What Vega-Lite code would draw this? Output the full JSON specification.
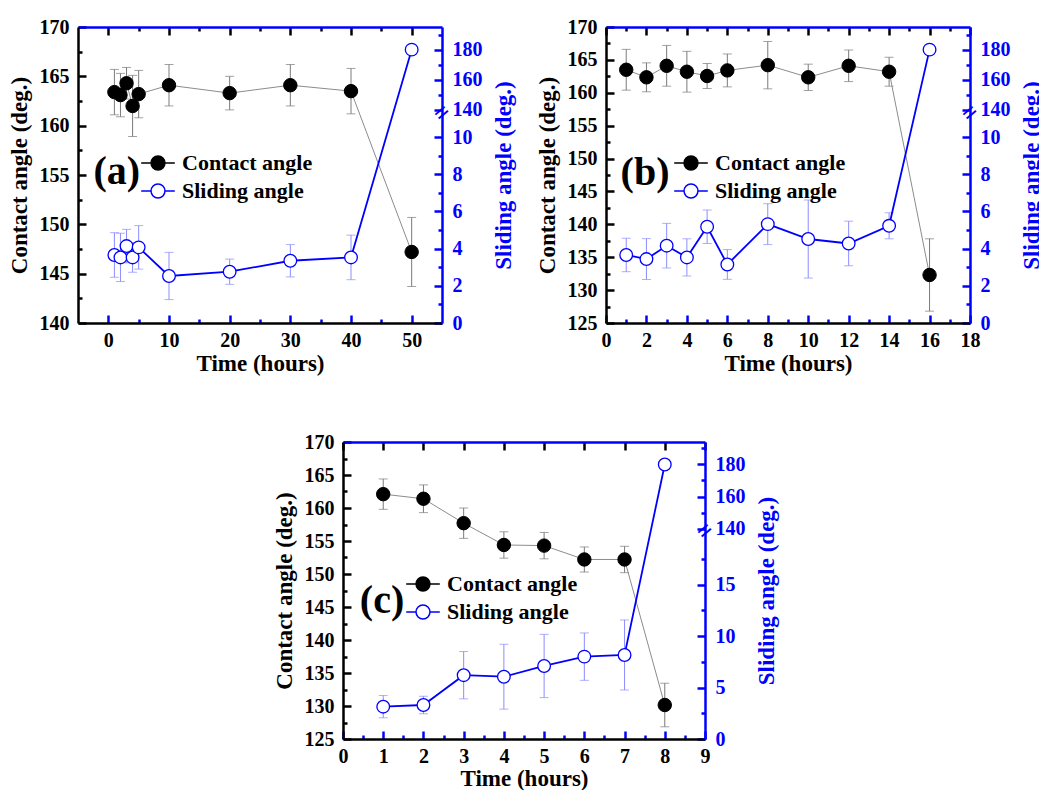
{
  "$schema": "https://vega.github.io/schema/vega-lite/v6.json",
  "padding": {"left": 8, "top": 17, "right": 0, "bottom": 0},
  "datasets": {
    "a": [
      {"t": 1, "series": "Contact angle", "v": 163.4, "e": 2.3},
      {"t": 2, "series": "Contact angle", "v": 163.1, "e": 2.2},
      {"t": 3, "series": "Contact angle", "v": 164.3, "e": 1.6},
      {"t": 4, "series": "Contact angle", "v": 162.0, "e": 3.1},
      {"t": 5, "series": "Contact angle", "v": 163.2, "e": 2.4},
      {"t": 10, "series": "Contact angle", "v": 164.1, "e": 2.1},
      {"t": 20, "series": "Contact angle", "v": 163.3, "e": 1.7},
      {"t": 30, "series": "Contact angle", "v": 164.1, "e": 2.1},
      {"t": 40, "series": "Contact angle", "v": 163.5, "e": 2.3},
      {"t": 50, "series": "Contact angle", "v": 147.2, "e": 3.5},
      {"t": 1, "series": "Sliding angle", "v": 3.66, "e": 1.2},
      {"t": 2, "series": "Sliding angle", "v": 3.53, "e": 1.3},
      {"t": 3, "series": "Sliding angle", "v": 4.14, "e": 0.9},
      {"t": 4, "series": "Sliding angle", "v": 3.53, "e": 0.8},
      {"t": 5, "series": "Sliding angle", "v": 4.07, "e": 1.17},
      {"t": 10, "series": "Sliding angle", "v": 2.53, "e": 1.27},
      {"t": 20, "series": "Sliding angle", "v": 2.76, "e": 0.68},
      {"t": 30, "series": "Sliding angle", "v": 3.35, "e": 0.87},
      {"t": 40, "series": "Sliding angle", "v": 3.53, "e": 1.2},
      {"t": 50, "series": "Sliding angle", "v": 180, "e": null}
    ],
    "b": [
      {"t": 1, "series": "Contact angle", "v": 163.5, "e": 3.1},
      {"t": 2, "series": "Contact angle", "v": 162.35, "e": 2.2},
      {"t": 3, "series": "Contact angle", "v": 164.1, "e": 3.1},
      {"t": 4, "series": "Contact angle", "v": 163.2, "e": 3.1},
      {"t": 5, "series": "Contact angle", "v": 162.55, "e": 1.9},
      {"t": 6, "series": "Contact angle", "v": 163.4, "e": 2.5},
      {"t": 8, "series": "Contact angle", "v": 164.2, "e": 3.6},
      {"t": 10, "series": "Contact angle", "v": 162.35, "e": 2.0},
      {"t": 12, "series": "Contact angle", "v": 164.1, "e": 2.4},
      {"t": 14, "series": "Contact angle", "v": 163.2, "e": 2.2},
      {"t": 16, "series": "Contact angle", "v": 132.3, "e": 5.5},
      {"t": 1, "series": "Sliding angle", "v": 3.66, "e": 0.9},
      {"t": 2, "series": "Sliding angle", "v": 3.44, "e": 1.1},
      {"t": 3, "series": "Sliding angle", "v": 4.16, "e": 1.2},
      {"t": 4, "series": "Sliding angle", "v": 3.53, "e": 1.0},
      {"t": 5, "series": "Sliding angle", "v": 5.18, "e": 0.9},
      {"t": 6, "series": "Sliding angle", "v": 3.15, "e": 0.8},
      {"t": 8, "series": "Sliding angle", "v": 5.32, "e": 1.1},
      {"t": 10, "series": "Sliding angle", "v": 4.52, "e": 2.1},
      {"t": 12, "series": "Sliding angle", "v": 4.28, "e": 1.2},
      {"t": 14, "series": "Sliding angle", "v": 5.23, "e": 0.7},
      {"t": 16, "series": "Sliding angle", "v": 180, "e": null}
    ],
    "c": [
      {"t": 1, "series": "Contact angle", "v": 162.1, "e": 2.3},
      {"t": 2, "series": "Contact angle", "v": 161.4, "e": 2.1},
      {"t": 3, "series": "Contact angle", "v": 157.7, "e": 2.3},
      {"t": 4, "series": "Contact angle", "v": 154.4, "e": 2.0},
      {"t": 5, "series": "Contact angle", "v": 154.3, "e": 2.0},
      {"t": 6, "series": "Contact angle", "v": 152.2, "e": 1.9},
      {"t": 7, "series": "Contact angle", "v": 152.2, "e": 2.0},
      {"t": 8, "series": "Contact angle", "v": 130.15, "e": 3.3},
      {"t": 1, "series": "Sliding angle", "v": 3.14, "e": 1.08},
      {"t": 2, "series": "Sliding angle", "v": 3.3, "e": 0.85},
      {"t": 3, "series": "Sliding angle", "v": 6.2, "e": 2.3},
      {"t": 4, "series": "Sliding angle", "v": 6.05, "e": 3.15},
      {"t": 5, "series": "Sliding angle", "v": 7.09, "e": 3.07},
      {"t": 6, "series": "Sliding angle", "v": 8.0, "e": 2.3},
      {"t": 7, "series": "Sliding angle", "v": 8.16, "e": 3.4},
      {"t": 8, "series": "Sliding angle", "v": 180, "e": null}
    ]
  },
  "config": {
    "view": {"stroke": null},
    "font": "Liberation Serif",
    "axis": {
      "labelFont": "Liberation Serif", "labelFontSize": 20, "labelFontWeight": "bold", "labelColor": "#000000",
      "titleFont": "Liberation Serif", "titleFontSize": 23, "titleFontWeight": "bold", "titleColor": "#000000",
      "domainWidth": 2.5, "domainColor": "#000000", "ticks": false,
      "grid": true, "gridWidth": 2.5, "gridOpacity": 1,
      "labelPadding": 9, "labelFlush": false, "labelOverlap": false, "format": "d"
    },
    "legend": {
      "title": null,
      "symbolType": "M-1.4,0H-0.58M0.58,0H1.4M-0.58,0A0.58,0.58,0,1,1,0.58,0A0.58,0.58,0,1,1,-0.58,0Z",
      "symbolSize": 576, "symbolStrokeWidth": 1.5,
      "labelFont": "Liberation Serif", "labelFontSize": 22, "labelFontWeight": "bold", "labelColor": "#000000",
      "labelOffset": 11, "rowPadding": 4, "padding": 0, "direction": "vertical"
    }
  },
  "resolve": {"scale": {"fill": "independent", "stroke": "independent"}},
  "spacing": 57,
  "vconcat": [
    {
      "spacing": 21,
      "resolve": {"scale": {"fill": "independent", "stroke": "independent"}},
      "hconcat": [
        {
          "width": 364, "height": 296,
          "data": {"name": "a"},
          "resolve": {"scale": {"y": "independent"}, "axis": {"x": "independent", "y": "independent"}},
          "layer": [
            {
              "transform": [{"filter": "datum.series === 'Contact angle'"}],
              "encoding": {
                "x": {"field": "t", "type": "quantitative", "scale": {"domain": [-5, 55], "nice": false, "zero": false},
                      "axis": {"orient": "bottom", "zindex": 1, "format": "d", "values": [0, 5, 10, 15, 20, 25, 30, 35, 40, 45, 50], "labelExpr": "datum.value % 10 === 0 ? datum.label : ''", "labelPadding": 7, "title": "Time (hours)", "titlePadding": 2,
                               "grid": true, "gridColor": "#000000", "gridDash": {"condition": {"test": "datum.value % 10 === 0", "value": [8, 1000]}, "value": [4, 1000]}}},
                "y": {"field": "v", "type": "quantitative", "scale": {"domain": [140, 170], "nice": false, "zero": false},
                      "axis": {"orient": "left", "zindex": 1, "format": "d", "values": [140, 142.5, 145, 147.5, 150, 152.5, 155, 157.5, 160, 162.5, 165, 167.5, 170], "labelExpr": "datum.value % 5 === 0 ? datum.label : ''", "title": "Contact angle (deg.)", "titlePadding": 8,
                               "grid": true, "gridColor": "#000000", "gridDash": {"condition": {"test": "datum.value % 5 === 0", "value": [8, 1000]}, "value": [4, 1000]}}}
              },
              "layer": [
                {"transform": [{"filter": "datum.e != null"}], "mark": {"type": "errorbar", "color": "#7a7a7a", "thickness": 1, "ticks": {"size": 9}}, "encoding": {"yError": {"field": "e"}}},
                {"mark": {"type": "line", "color": "#8c8c8c", "strokeWidth": 1}},
                {"mark": {"type": "point", "filled": true, "size": 180, "opacity": 1, "strokeWidth": 1},
                 "encoding": {
                   "fill": {"field": "series", "type": "nominal", "scale": {"domain": ["Contact angle", "Sliding angle"], "range": ["#000000", "#ffffff"]}, "legend": {"orient": "none", "legendX": 67, "legendY": 123}},
                   "stroke": {"field": "series", "type": "nominal", "scale": {"domain": ["Contact angle", "Sliding angle"], "range": ["#000000", "#0000ff"]}, "legend": {"orient": "none", "legendX": 67, "legendY": 123}}
                 }}
              ]
            },
            {
              "transform": [{"filter": "datum.series === 'Sliding angle'"}],
              "encoding": {
                "x": {"field": "t", "type": "quantitative", "scale": {"domain": [-5, 55], "nice": false, "zero": false},
                      "axis": {"orient": "top", "zindex": 1, "values": [0, 5, 10, 15, 20, 25, 30, 35, 40, 45, 50], "labels": false, "title": null, "domainColor": "#0000ff",
                               "grid": true, "gridColor": "#0000ff", "gridDash": {"condition": {"test": "datum.value % 10 === 0", "value": [8, 1000]}, "value": [4, 1000]}}},
                "y": {"field": "v", "type": "quantitative", "scale": {"type": "linear", "domain": [0, 11.3, 138, 195], "range": [296, 86, 86, 0], "nice": false, "zero": false},
                      "axis": {"orient": "right", "zindex": 1, "format": "d", "values": [0, 1, 2, 3, 4, 5, 6, 7, 8, 9, 10, 140, 150, 160, 170, 180, 190], "labelExpr": "(datum.value <= 12 && datum.value % 2 === 0) || (datum.value >= 130 && datum.value % 20 === 0) ? datum.label : ''", "labelPadding": 10, "labelColor": "#0000ff", "domainColor": "#0000ff", "title": "Sliding angle (deg.)", "titleColor": "#0000ff", "titlePadding": 10, "titleAngle": 270, "titleBaseline": "top",
                               "grid": true, "gridColor": "#0000ff", "gridDash": {"condition": {"test": "(datum.value <= 12 && datum.value % 2 === 0) || (datum.value >= 130 && datum.value % 20 === 0)", "value": [8, 1000]}, "value": [4, 1000]}}}
              },
              "layer": [
                {"transform": [{"filter": "datum.e != null"}], "mark": {"type": "errorbar", "color": "#8c8cff", "thickness": 1, "ticks": {"size": 9}}, "encoding": {"yError": {"field": "e"}}},
                {"mark": {"type": "line", "color": "#0000ff", "strokeWidth": 1.8}},
                {"mark": {"type": "point", "filled": true, "size": 160, "opacity": 1, "strokeWidth": 1.3},
                 "encoding": {
                   "fill": {"field": "series", "type": "nominal", "scale": {"domain": ["Contact angle", "Sliding angle"], "range": ["#000000", "#ffffff"]}, "legend": {"orient": "none", "legendX": 67, "legendY": 123}},
                   "stroke": {"field": "series", "type": "nominal", "scale": {"domain": ["Contact angle", "Sliding angle"], "range": ["#000000", "#0000ff"]}, "legend": {"orient": "none", "legendX": 67, "legendY": 123}}
                 }}
              ]
            },
            {
              "data": {"values": [{"label": "(a)"}]},
              "mark": {"type": "text", "fontSize": 40, "fontWeight": "bold", "color": "#000000", "baseline": "middle", "align": "center"},
              "encoding": {
                "x": {"datum": 1.4, "type": "quantitative", "scale": {"domain": [-5, 55], "nice": false, "zero": false}, "axis": null},
                "y": {"datum": 155.3, "type": "quantitative", "scale": {"domain": [140, 170], "nice": false, "zero": false}, "axis": null},
                "text": {"field": "label"}
              }
            },
            {
              "data": {"values": [{"mk": "="}]},
              "mark": {"type": "text", "fontSize": 26, "fontWeight": "bold", "color": "#0000ff", "angle": 320, "baseline": "middle", "align": "center"},
              "encoding": {
                "x": {"datum": 55, "type": "quantitative", "scale": {"domain": [-5, 55], "nice": false, "zero": false}, "axis": null},
                "y": {"datum": 50, "type": "quantitative", "scale": {"type": "linear", "domain": [0, 11.3, 138, 195], "range": [296, 86, 86, 0], "nice": false, "zero": false}, "axis": null},
                "text": {"field": "mk"}
              }
            }
          ]
        },
        {
          "width": 364, "height": 296,
          "data": {"name": "b"},
          "resolve": {"scale": {"y": "independent"}, "axis": {"x": "independent", "y": "independent"}},
          "layer": [
            {
              "transform": [{"filter": "datum.series === 'Contact angle'"}],
              "encoding": {
                "x": {"field": "t", "type": "quantitative", "scale": {"domain": [0, 18], "nice": false, "zero": false},
                      "axis": {"orient": "bottom", "zindex": 1, "format": "d", "values": [0, 1, 2, 3, 4, 5, 6, 7, 8, 9, 10, 11, 12, 13, 14, 15, 16, 17, 18], "labelExpr": "datum.value % 2 === 0 ? datum.label : ''", "labelPadding": 7, "title": "Time (hours)", "titlePadding": 2,
                               "grid": true, "gridColor": "#000000", "gridDash": {"condition": {"test": "datum.value % 2 === 0", "value": [8, 1000]}, "value": [4, 1000]}}},
                "y": {"field": "v", "type": "quantitative", "scale": {"domain": [125, 170], "nice": false, "zero": false},
                      "axis": {"orient": "left", "zindex": 1, "format": "d", "values": [125, 127.5, 130, 132.5, 135, 137.5, 140, 142.5, 145, 147.5, 150, 152.5, 155, 157.5, 160, 162.5, 165, 167.5, 170], "labelExpr": "datum.value % 5 === 0 ? datum.label : ''", "title": "Contact angle (deg.)", "titlePadding": 8,
                               "grid": true, "gridColor": "#000000", "gridDash": {"condition": {"test": "datum.value % 5 === 0", "value": [8, 1000]}, "value": [4, 1000]}}}
              },
              "layer": [
                {"transform": [{"filter": "datum.e != null"}], "mark": {"type": "errorbar", "color": "#7a7a7a", "thickness": 1, "ticks": {"size": 9}}, "encoding": {"yError": {"field": "e"}}},
                {"mark": {"type": "line", "color": "#8c8c8c", "strokeWidth": 1}},
                {"mark": {"type": "point", "filled": true, "size": 180, "opacity": 1, "strokeWidth": 1},
                 "encoding": {
                   "fill": {"field": "series", "type": "nominal", "scale": {"domain": ["Contact angle", "Sliding angle"], "range": ["#000000", "#ffffff"]}, "legend": {"orient": "none", "legendX": 72, "legendY": 123}},
                   "stroke": {"field": "series", "type": "nominal", "scale": {"domain": ["Contact angle", "Sliding angle"], "range": ["#000000", "#0000ff"]}, "legend": {"orient": "none", "legendX": 72, "legendY": 123}}
                 }}
              ]
            },
            {
              "transform": [{"filter": "datum.series === 'Sliding angle'"}],
              "encoding": {
                "x": {"field": "t", "type": "quantitative", "scale": {"domain": [0, 18], "nice": false, "zero": false},
                      "axis": {"orient": "top", "zindex": 1, "values": [0, 1, 2, 3, 4, 5, 6, 7, 8, 9, 10, 11, 12, 13, 14, 15, 16, 17, 18], "labels": false, "title": null, "domainColor": "#0000ff",
                               "grid": true, "gridColor": "#0000ff", "gridDash": {"condition": {"test": "datum.value % 2 === 0", "value": [8, 1000]}, "value": [4, 1000]}}},
                "y": {"field": "v", "type": "quantitative", "scale": {"type": "linear", "domain": [0, 11.3, 138, 195], "range": [296, 86, 86, 0], "nice": false, "zero": false},
                      "axis": {"orient": "right", "zindex": 1, "format": "d", "values": [0, 1, 2, 3, 4, 5, 6, 7, 8, 9, 10, 140, 150, 160, 170, 180, 190], "labelExpr": "(datum.value <= 12 && datum.value % 2 === 0) || (datum.value >= 130 && datum.value % 20 === 0) ? datum.label : ''", "labelPadding": 10, "labelColor": "#0000ff", "domainColor": "#0000ff", "title": "Sliding angle (deg.)", "titleColor": "#0000ff", "titlePadding": 10, "titleAngle": 270, "titleBaseline": "top",
                               "grid": true, "gridColor": "#0000ff", "gridDash": {"condition": {"test": "(datum.value <= 12 && datum.value % 2 === 0) || (datum.value >= 130 && datum.value % 20 === 0)", "value": [8, 1000]}, "value": [4, 1000]}}}
              },
              "layer": [
                {"transform": [{"filter": "datum.e != null"}], "mark": {"type": "errorbar", "color": "#8c8cff", "thickness": 1, "ticks": {"size": 9}}, "encoding": {"yError": {"field": "e"}}},
                {"mark": {"type": "line", "color": "#0000ff", "strokeWidth": 1.8}},
                {"mark": {"type": "point", "filled": true, "size": 160, "opacity": 1, "strokeWidth": 1.3},
                 "encoding": {
                   "fill": {"field": "series", "type": "nominal", "scale": {"domain": ["Contact angle", "Sliding angle"], "range": ["#000000", "#ffffff"]}, "legend": {"orient": "none", "legendX": 72, "legendY": 123}},
                   "stroke": {"field": "series", "type": "nominal", "scale": {"domain": ["Contact angle", "Sliding angle"], "range": ["#000000", "#0000ff"]}, "legend": {"orient": "none", "legendX": 72, "legendY": 123}}
                 }}
              ]
            },
            {
              "data": {"values": [{"label": "(b)"}]},
              "mark": {"type": "text", "fontSize": 40, "fontWeight": "bold", "color": "#000000", "baseline": "middle", "align": "center"},
              "encoding": {
                "x": {"datum": 1.93, "type": "quantitative", "scale": {"domain": [0, 18], "nice": false, "zero": false}, "axis": null},
                "y": {"datum": 147.8, "type": "quantitative", "scale": {"domain": [125, 170], "nice": false, "zero": false}, "axis": null},
                "text": {"field": "label"}
              }
            },
            {
              "data": {"values": [{"mk": "="}]},
              "mark": {"type": "text", "fontSize": 26, "fontWeight": "bold", "color": "#0000ff", "angle": 320, "baseline": "middle", "align": "center"},
              "encoding": {
                "x": {"datum": 18, "type": "quantitative", "scale": {"domain": [0, 18], "nice": false, "zero": false}, "axis": null},
                "y": {"datum": 50, "type": "quantitative", "scale": {"type": "linear", "domain": [0, 11.3, 138, 195], "range": [296, 86, 86, 0], "nice": false, "zero": false}, "axis": null},
                "text": {"field": "mk"}
              }
            }
          ]
        }
      ]
    },
    {
      "spacing": 0,
      "resolve": {"scale": {"fill": "independent", "stroke": "independent"}},
      "hconcat": [
        {"width": 195, "height": 10, "data": {"values": []}, "mark": "point"},
        {
          "width": 362, "height": 297,
          "data": {"name": "c"},
          "resolve": {"scale": {"y": "independent"}, "axis": {"x": "independent", "y": "independent"}},
          "layer": [
            {
              "transform": [{"filter": "datum.series === 'Contact angle'"}],
              "encoding": {
                "x": {"field": "t", "type": "quantitative", "scale": {"domain": [0, 9], "nice": false, "zero": false},
                      "axis": {"orient": "bottom", "zindex": 1, "format": "d", "values": [0, 0.5, 1, 1.5, 2, 2.5, 3, 3.5, 4, 4.5, 5, 5.5, 6, 6.5, 7, 7.5, 8, 8.5, 9], "labelExpr": "datum.value % 1 === 0 ? datum.label : ''", "labelPadding": 7, "title": "Time (hours)", "titlePadding": 1,
                               "grid": true, "gridColor": "#000000", "gridDash": {"condition": {"test": "datum.value % 1 === 0", "value": [8, 1000]}, "value": [4, 1000]}}},
                "y": {"field": "v", "type": "quantitative", "scale": {"domain": [125, 170], "nice": false, "zero": false},
                      "axis": {"orient": "left", "zindex": 1, "format": "d", "values": [125, 127.5, 130, 132.5, 135, 137.5, 140, 142.5, 145, 147.5, 150, 152.5, 155, 157.5, 160, 162.5, 165, 167.5, 170], "labelExpr": "datum.value % 5 === 0 ? datum.label : ''", "title": "Contact angle (deg.)", "titlePadding": 8,
                               "grid": true, "gridColor": "#000000", "gridDash": {"condition": {"test": "datum.value % 5 === 0", "value": [8, 1000]}, "value": [4, 1000]}}}
              },
              "layer": [
                {"transform": [{"filter": "datum.e != null"}], "mark": {"type": "errorbar", "color": "#7a7a7a", "thickness": 1, "ticks": {"size": 9}}, "encoding": {"yError": {"field": "e"}}},
                {"mark": {"type": "line", "color": "#8c8c8c", "strokeWidth": 1}},
                {"mark": {"type": "point", "filled": true, "size": 180, "opacity": 1, "strokeWidth": 1},
                 "encoding": {
                   "fill": {"field": "series", "type": "nominal", "scale": {"domain": ["Contact angle", "Sliding angle"], "range": ["#000000", "#ffffff"]}, "legend": {"orient": "none", "legendX": 67, "legendY": 129}},
                   "stroke": {"field": "series", "type": "nominal", "scale": {"domain": ["Contact angle", "Sliding angle"], "range": ["#000000", "#0000ff"]}, "legend": {"orient": "none", "legendX": 67, "legendY": 129}}
                 }}
              ]
            },
            {
              "transform": [{"filter": "datum.series === 'Sliding angle'"}],
              "encoding": {
                "x": {"field": "t", "type": "quantitative", "scale": {"domain": [0, 9], "nice": false, "zero": false},
                      "axis": {"orient": "top", "zindex": 1, "values": [0, 0.5, 1, 1.5, 2, 2.5, 3, 3.5, 4, 4.5, 5, 5.5, 6, 6.5, 7, 7.5, 8, 8.5, 9], "labels": false, "title": null, "domainColor": "#0000ff",
                               "grid": true, "gridColor": "#0000ff", "gridDash": {"condition": {"test": "datum.value % 1 === 0", "value": [8, 1000]}, "value": [4, 1000]}}},
                "y": {"field": "v", "type": "quantitative", "scale": {"type": "linear", "domain": [0, 20.2, 138.5, 194], "range": [297, 89, 89, 0], "nice": false, "zero": false},
                      "axis": {"orient": "right", "zindex": 1, "format": "d", "values": [0, 2.5, 5, 7.5, 10, 12.5, 15, 17.5, 140, 150, 160, 170, 180, 190], "labelExpr": "(datum.value <= 20 && datum.value % 5 === 0) || (datum.value >= 130 && datum.value % 20 === 0) ? datum.label : ''", "labelPadding": 10, "labelColor": "#0000ff", "domainColor": "#0000ff", "title": "Sliding angle (deg.)", "titleColor": "#0000ff", "titlePadding": 10, "titleAngle": 270, "titleBaseline": "top",
                               "grid": true, "gridColor": "#0000ff", "gridDash": {"condition": {"test": "(datum.value <= 20 && datum.value % 5 === 0) || (datum.value >= 130 && datum.value % 20 === 0)", "value": [8, 1000]}, "value": [4, 1000]}}}
              },
              "layer": [
                {"transform": [{"filter": "datum.e != null"}], "mark": {"type": "errorbar", "color": "#8c8cff", "thickness": 1, "ticks": {"size": 9}}, "encoding": {"yError": {"field": "e"}}},
                {"mark": {"type": "line", "color": "#0000ff", "strokeWidth": 1.8}},
                {"mark": {"type": "point", "filled": true, "size": 160, "opacity": 1, "strokeWidth": 1.3},
                 "encoding": {
                   "fill": {"field": "series", "type": "nominal", "scale": {"domain": ["Contact angle", "Sliding angle"], "range": ["#000000", "#ffffff"]}, "legend": {"orient": "none", "legendX": 67, "legendY": 129}},
                   "stroke": {"field": "series", "type": "nominal", "scale": {"domain": ["Contact angle", "Sliding angle"], "range": ["#000000", "#0000ff"]}, "legend": {"orient": "none", "legendX": 67, "legendY": 129}}
                 }}
              ]
            },
            {
              "data": {"values": [{"label": "(c)"}]},
              "mark": {"type": "text", "fontSize": 40, "fontWeight": "bold", "color": "#000000", "baseline": "middle", "align": "center"},
              "encoding": {
                "x": {"datum": 0.97, "type": "quantitative", "scale": {"domain": [0, 9], "nice": false, "zero": false}, "axis": null},
                "y": {"datum": 145.9, "type": "quantitative", "scale": {"domain": [125, 170], "nice": false, "zero": false}, "axis": null},
                "text": {"field": "label"}
              }
            },
            {
              "data": {"values": [{"mk": "="}]},
              "mark": {"type": "text", "fontSize": 26, "fontWeight": "bold", "color": "#0000ff", "angle": 320, "baseline": "middle", "align": "center"},
              "encoding": {
                "x": {"datum": 9, "type": "quantitative", "scale": {"domain": [0, 9], "nice": false, "zero": false}, "axis": null},
                "y": {"datum": 50, "type": "quantitative", "scale": {"type": "linear", "domain": [0, 20.2, 138.5, 194], "range": [297, 89, 89, 0], "nice": false, "zero": false}, "axis": null},
                "text": {"field": "mk"}
              }
            }
          ]
        }
      ]
    }
  ]
}
